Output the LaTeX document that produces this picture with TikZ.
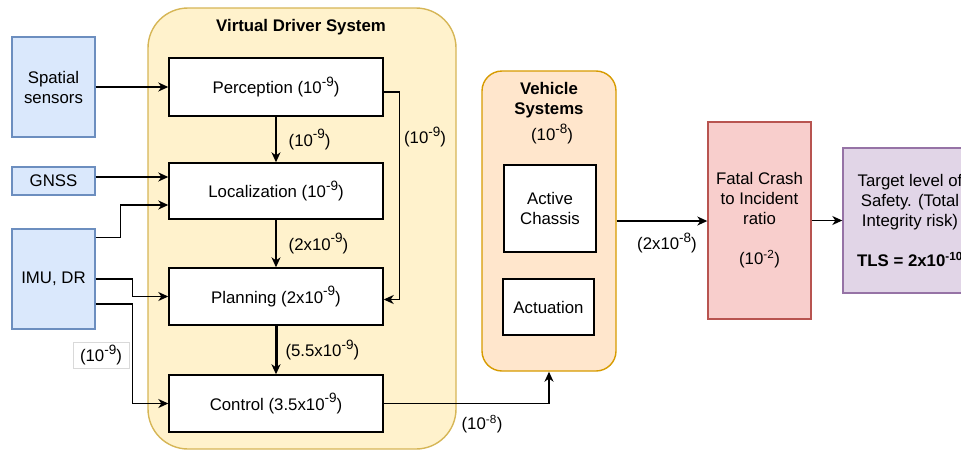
\documentclass[tikz,border=0pt]{standalone}
\usepackage{fontspec}
\setmainfont{Liberation Sans}
\usetikzlibrary{arrows.meta}
\newcommand{\tenpow}[1]{10\raisebox{0.42em}{\fontsize{13.5}{13.5}\selectfont #1}}
\newcommand{\tenpows}[1]{10\textsuperscript{#1}}
\definecolor{sysfill}{HTML}{FFF2CC}
\definecolor{sysline}{HTML}{D6B656}
\definecolor{vehfill}{HTML}{FFE6CC}
\definecolor{vehline}{HTML}{D79B00}
\definecolor{sensfill}{HTML}{DAE8FC}
\definecolor{sensline}{HTML}{6C8EBF}
\definecolor{crashfill}{HTML}{F8CECC}
\definecolor{crashline}{HTML}{B85450}
\definecolor{tlsfill}{HTML}{E1D5E7}
\definecolor{tlsline}{HTML}{9673A6}

\begin{document}
\begin{tikzpicture}[x=1pt, y=-1pt,
  every node/.style={font=\fontsize{16.8}{20}\selectfont, align=center, inner sep=2pt},
  block/.style={draw=black, fill=white, line width=1.4pt, minimum width=214pt},
  sensor/.style={draw=sensline, fill=sensfill, line width=1.4pt, minimum width=83pt},
  conn/.style={line width=1.4pt, -{Stealth[length=10pt, width=9pt, inset=3pt]}}]
  \useasboundingbox (0,0) rectangle (961,450);

  % containers
  \node[draw=sysline, fill=sysfill, line width=1.4pt, rounded corners=40pt,
    minimum width=308pt, minimum height=441pt] (sys) at (302,228.5) {};
  \node[font=\fontsize{16.8}{20}\selectfont\bfseries] (systitle) at (301,27) {Virtual Driver System};
  \node[draw=vehline, fill=vehfill, line width=1.4pt, rounded corners=20pt,
    minimum width=134pt, minimum height=300pt] (veh) at (549,221) {};
  \node[font=\fontsize{16.8}{20}\selectfont\bfseries] (vehtitle) at (549,100) {Vehicle\\Systems};
  \node (vehrisk) at (552,134) {(\tenpow{-8})};

  % inputs
  \node[sensor, minimum height=100pt] (spatial) at (53.5,87) {Spatial\\sensors};
  \node[sensor, minimum height=28pt] (gnss) at (53.5,181) {GNSS};
  \node[sensor, minimum height=100pt] (imu) at (53.5,279) {IMU, DR};

  % virtual driver blocks
  \node[block, minimum height=58pt] (perc) at (276,87) {Perception (\tenpow{-9})};
  \node[block, minimum height=56pt] (loc) at (276,191) {Localization (\tenpow{-9})};
  \node[block, minimum height=57pt] (plan) at (276,296.5) {Planning (2x\tenpow{-9})};
  \node[block, minimum height=57pt] (ctrl) at (276,403.5) {Control (3.5x\tenpow{-9})};

  % vehicle blocks
  \node[block, minimum width=92pt, minimum height=87pt] (chassis) at (550,208.5) {Active\\Chassis};
  \node[block, minimum width=91pt, minimum height=56pt] (act) at (548.5,307) {Actuation};

  % outputs
  \node[draw=crashline, fill=crashfill, line width=1.4pt, minimum width=103pt,
    minimum height=197pt] (crash) at (759.5,220.5)
    {Fatal Crash\\to Incident\\ratio\\[20pt](\tenpows{-2})};
  \node[draw=tlsline, fill=tlsfill, line width=1.4pt, minimum width=134pt,
    minimum height=145pt] (tls) at (910,220.5)
    {Target level of\\Safety. (Total\\Integrity risk)\\[20pt]\textbf{TLS = 2x\tenpows{-10}}};

  % connectors
  \draw[conn] (spatial) -- (perc);
  \draw[conn] ([yshift=4pt]gnss.east) -- ([yshift=4pt]gnss.east -| loc.west);
  \draw[conn] ([yshift=-9pt]imu.north east) -- ++(25,0) |- ([yshift=-14pt]loc.west);
  \draw[conn] (imu.east) -- ++(37,0) |- (plan.west);
  \draw[conn] ([yshift=-25pt]imu.east) -- ++(37,0) |- (ctrl.west);
  \draw[conn] (perc) -- node[right=10pt] (l1) {(\tenpow{-9})} (loc);
  \draw[conn] (loc) -- node[right=10pt] (l2) {(2x\tenpow{-9})} (plan);
  \draw[conn, line width=3pt] (plan) -- node[right=6pt] (l3) {(5.5x\tenpow{-9})} (ctrl);
  \draw[conn] ([yshift=-5pt]perc.east) -- ++(16,0) |- ([yshift=-3pt]plan.east);
  \node (l4) at (425,137) {(\tenpow{-9})};
  \node[draw=gray!30, fill=white, line width=0.8pt, minimum width=56pt, minimum height=26pt]
    (l5) at (101,355) {(\tenpow{-9})};
  \draw[conn] (ctrl.east) -| (veh.south);
  \node (l6) at (482,424) {(\tenpows{-8})};
  \draw[conn] (veh.east) -- (veh.east -| crash.west);
  \node (l7) at (667,243) {(2x\tenpow{-8})};
  \draw[conn] (crash) -- (tls);
\end{tikzpicture}
\end{document}
